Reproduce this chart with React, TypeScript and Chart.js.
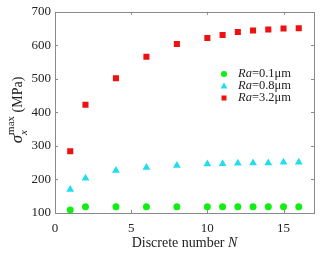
import React, { useEffect, useRef } from "react";
import { Chart, registerables } from "chart.js";

Chart.register(...registerables);

const discreteN = [1, 2, 4, 6, 8, 10, 11, 12, 13, 14, 15, 16];
const ra01 = [109, 119, 119, 119, 119, 119, 119, 119, 119, 119, 119, 119];
const ra08 = [170, 204, 227, 236, 242, 246, 247, 248, 249, 249, 251, 251];
const ra32 = [284, 423, 502, 566, 604, 622, 631, 640, 644, 647, 650, 651];
const seriesLabels = ["0.1μm", "0.8μm", "3.2μm"];
const xTicks = [0, 5, 10, 15];
const yTicks = [100, 200, 300, 400, 500, 600, 700];

const SERIF = "'Liberation Serif', 'Times New Roman', serif";
const AXIS_GRAY = "#8a8a8a";
const TEXT = "#222";

const boxPlugin = {
  id: "boxPlugin",
  afterDraw(chart: any) {
    const { ctx, chartArea } = chart;
    const { left, right, top, bottom } = chartArea;
    const xs = chart.scales.x;
    const ys = chart.scales.y;
    ctx.save();
    ctx.strokeStyle = AXIS_GRAY;
    ctx.lineWidth = 1;
    ctx.strokeRect(Math.round(left) + 0.5, Math.round(top) + 0.5, Math.round(right - left), Math.round(bottom - top));
    const tl = 3;
    ctx.beginPath();
    for (const v of xTicks) {
      const px = Math.round(xs.getPixelForValue(v)) + 0.5;
      ctx.moveTo(px, bottom);
      ctx.lineTo(px, bottom - tl);
      ctx.moveTo(px, top);
      ctx.lineTo(px, top + tl);
    }
    for (const v of yTicks) {
      const py = Math.round(ys.getPixelForValue(v)) + 0.5;
      ctx.moveTo(left, py);
      ctx.lineTo(left + tl, py);
      ctx.moveTo(right, py);
      ctx.lineTo(right - tl, py);
    }
    ctx.stroke();

    // x title
    ctx.fillStyle = TEXT;
    ctx.textBaseline = "middle";
    const normal = `14px ${SERIF}`;
    const italic = `italic 14px ${SERIF}`;
    const p1 = "Discrete number ";
    ctx.font = normal;
    const w1 = ctx.measureText(p1).width;
    ctx.font = italic;
    const w2 = ctx.measureText("N").width;
    const cx = (left + right) / 2;
    const sx = cx - (w1 + w2) / 2;
    ctx.font = normal;
    ctx.textAlign = "left";
    ctx.fillText(p1, sx, 243);
    ctx.font = italic;
    ctx.fillText("N", sx + w1, 243);

    // y title (rotated)
    ctx.save();
    ctx.translate(18, 110);
    ctx.rotate(-Math.PI / 2);
    const sigFont = `italic 17px ${SERIF}`;
    const subFont = `italic 11px ${SERIF}`;
    const supFont = `11px ${SERIF}`;
    ctx.font = sigFont;
    const ws = ctx.measureText("σ").width;
    ctx.font = supFont;
    const wsup = ctx.measureText("max").width;
    ctx.font = normal;
    const wm = ctx.measureText(" (MPa)").width;
    const total = ws + wsup + wm;
    let px = -total / 2;
    ctx.textBaseline = "alphabetic";
    ctx.font = sigFont;
    ctx.fillText("σ", px, 4);
    px += ws;
    ctx.font = subFont;
    ctx.fillText("x", px, 9);
    ctx.font = supFont;
    ctx.fillText("max", px, -4);
    px += wsup;
    ctx.font = normal;
    ctx.fillText(" (MPa)", px, 4);
    ctx.restore();

    // legend
    const rowsY = [74, 86, 98];
    const markX = 224;
    const textX = 238;
    const colors = ["#11ee11", "#22ddee", "#ee1111"];
    rowsY.forEach((y, i) => {
      ctx.fillStyle = colors[i];
      ctx.beginPath();
      if (i === 0) {
        ctx.arc(markX, y, 3, 0, Math.PI * 2);
      } else if (i === 1) {
        ctx.moveTo(markX, y - 3.5);
        ctx.lineTo(markX + 3.5, y + 2.5);
        ctx.lineTo(markX - 3.5, y + 2.5);
        ctx.closePath();
      } else {
        ctx.rect(markX - 2.5, y - 2.5, 5, 5);
      }
      ctx.fill();
      ctx.fillStyle = TEXT;
      ctx.textBaseline = "middle";
      ctx.textAlign = "left";
      ctx.font = `italic 12.5px ${SERIF}`;
      const wr = ctx.measureText("Ra").width;
      ctx.fillText("Ra", textX, y);
      ctx.font = `12.5px ${SERIF}`;
      ctx.fillText("=" + seriesLabels[i], textX + wr, y);
    });
    ctx.restore();
  },
};

export default function App() {
  const ref = useRef<HTMLCanvasElement | null>(null);
  useEffect(() => {
    if (!ref.current) return;
    const toPts = (ys: number[]) => discreteN.map((n, i) => ({ x: n, y: ys[i] }));
    const chart = new Chart(ref.current, {
      type: "scatter",
      data: {
        datasets: [
          {
            label: "Ra=0.1μm",
            data: toPts(ra01),
            pointStyle: "circle",
            pointRadius: 3.5,
            backgroundColor: "#11ee11",
            borderWidth: 0,
          },
          {
            label: "Ra=0.8μm",
            data: toPts(ra08),
            pointStyle: "triangle",
            pointRadius: 4.5,
            backgroundColor: "#22ddee",
            borderWidth: 0,
          },
          {
            label: "Ra=3.2μm",
            data: toPts(ra32),
            pointStyle: "rect",
            pointRadius: 4.3,
            backgroundColor: "#ee1111",
            borderWidth: 0,
          },
        ],
      },
      options: {
        responsive: false,
        animation: false,
        layout: { padding: { left: 0, top: 10, right: 6, bottom: 0 } },
        plugins: { legend: { display: false }, tooltip: { enabled: false } },
        scales: {
          x: {
            type: "linear",
            min: 0,
            max: 17,
            afterFit: (s: any) => {
              s.height = 40;
            },
            afterBuildTicks: (s: any) => {
              s.ticks = xTicks.map((v) => ({ value: v }));
            },
            grid: { display: false, drawTicks: false },
            border: { display: false },
            ticks: {
              padding: 8,
              color: TEXT,
              font: { family: SERIF, size: 13 },
              maxRotation: 0,
              autoSkip: false,
            },
          },
          y: {
            type: "linear",
            min: 100,
            max: 700,
            afterFit: (s: any) => {
              s.width = 55;
            },
            afterBuildTicks: (s: any) => {
              s.ticks = yTicks.map((v) => ({ value: v }));
            },
            grid: { display: false, drawTicks: false },
            border: { display: false },
            ticks: {
              padding: 4,
              color: TEXT,
              font: { family: SERIF, size: 13 },
              autoSkip: false,
            },
          },
        },
      },
      plugins: [boxPlugin],
    });
    return () => chart.destroy();
  }, []);
  return (
    <div style={{ position: "fixed", left: 0, top: 0, width: 320, height: 253, background: "#fff" }}>
      <canvas ref={ref} width={320} height={253} />
    </div>
  );
}
